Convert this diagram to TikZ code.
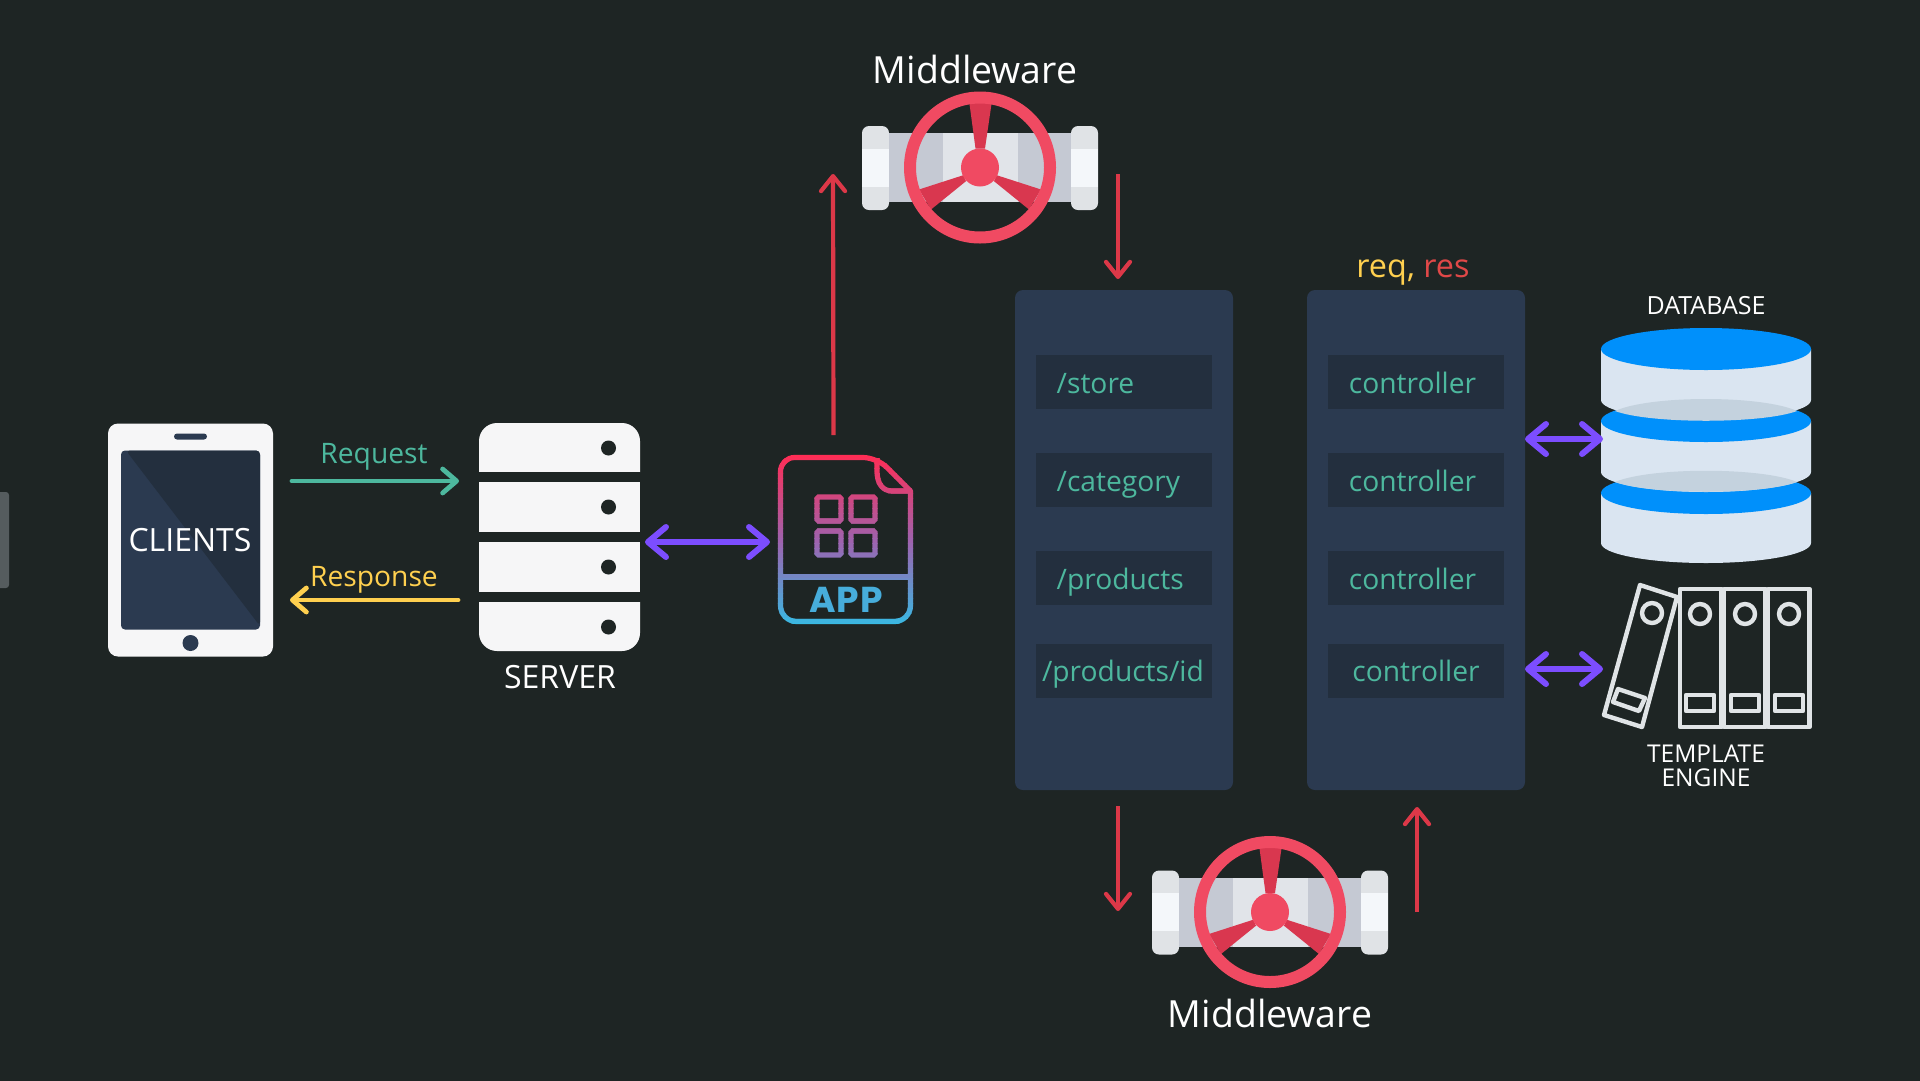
\documentclass[tikz,border=0pt]{standalone}
\usepackage{fontspec}
\setmainfont{Open Sans}
\newfontfamily\appfont{Poppins}
\usetikzlibrary{arrows.meta}
\usetikzlibrary{positioning}
\definecolor{mbg}{HTML}{1E2524}
\definecolor{mpanel}{HTML}{2B3A50}
\definecolor{mrow}{HTML}{232F3E}
\definecolor{mgreen}{HTML}{4DB89E}
\definecolor{myellow}{HTML}{FFD04F}
\definecolor{mred}{HTML}{DC3848}
\definecolor{mres}{HTML}{E04848}
\definecolor{mpurple}{HTML}{7C4DFF}
\definecolor{mwhite}{HTML}{F6F6F7}
\definecolor{mwheel}{HTML}{F04A62}
\definecolor{mspoke}{HTML}{D9374F}
\definecolor{mcapa}{HTML}{E0E3E6}
\definecolor{mcapb}{HTML}{F4F7FA}
\definecolor{mbodya}{HTML}{C5C9D3}
\definecolor{mbodyb}{HTML}{E1E4E9}
\definecolor{mblue}{HTML}{0090FB}
\definecolor{mside}{HTML}{DAE5F1}
\definecolor{mshadow}{HTML}{C4D2DE}
\definecolor{mbook}{HTML}{E0E4E6}
\definecolor{mtab}{HTML}{555C5E}
\definecolor{mappa}{HTML}{FF2D55}
\definecolor{mappb}{HTML}{9C64B0}
\definecolor{mappc}{HTML}{32BFE6}
\tikzset{
  box/.style = {rectangle, inner sep = 0, line width = 0},
  panel/.style = {box, fill = mpanel, rounded corners = 8, minimum width = 218, minimum height = 500},
  approw/.style = {box, fill = mrow, minimum width = 176, minimum height = 54},
  rowtext/.style = {text = mgreen, inner sep = 0, font = \fontsize{28.2}{30}\selectfont},
  whitetext/.style = {text = white, inner sep = 0},
  slab/.style = {box, fill = mwhite, minimum width = 161, minimum height = 50},
  reqline/.style = {line width = 4.8, mgreen, line cap = round, -{Straight Barb[length = 14, width = 24, round]}},
  resline/.style = {line width = 4.8, myellow, line cap = round, -{Straight Barb[length = 14, width = 24, round]}},
  redline/.style = {line width = 4.2, mred, -{Straight Barb[length = 15, width = 24, round]}},
  dualline/.style = {line width = 6, mpurple, line cap = round, {Straight Barb[length = 18, width = 30, round]}-{Straight Barb[length = 18, width = 30, round]}},
  book/.style = {line width = 4.4, mbook, line join = round},
}
% one valve, drawn round its wheel centre
\newcommand{\drawvalve}{
  \fill [mcapa, rounded corners = 7] (-118, -41.5) rectangle (-91, 42.5);
  \fill [mcapa, rounded corners = 7] (91, -41.5) rectangle (118, 42.5);
  \fill [mcapb] (-118, -19) rectangle (-91, 19);
  \fill [mcapb] (91, -19) rectangle (118, 19);
  \fill [mbodya] (-91, -34.5) rectangle (91, 34.5);
  \fill [mbodyb] (-37, -34.5) rectangle (38, 34.5);
  \fill [mspoke] (-4.5, -19) -- (5, -19) -- (11.7, -65) -- (-10.7, -65) -- cycle;
  \fill [mspoke] (-16.7, 7.7) -- (-14, 13.7) -- (-49, 42) -- (-61, 22) -- cycle;
  \fill [mspoke] (16.7, 7.7) -- (14, 13.7) -- (49, 42) -- (61, 22) -- cycle;
  \draw [mwheel, line width = 12] (0, 0) circle (70);
  \fill [mwheel] (0, 0) circle (19);
}
% app icon outline, in picture pixels
\newcommand{\appoutline}{
  \draw [line width = 5.2, line join = round, rounded corners = 14]
    (780.5, 577) -- (780.5, 457.5) -- (877, 457.5) [sharp corners] -- (910.5, 491)
    [rounded corners = 16] -- (910.5, 621.5) -- (780.5, 621.5) -- (780.5, 577);
  \draw [line width = 5.2] (780.5, 577) -- (910.5, 577);
  \draw [line width = 5.2] (877, 458) -- (877, 471) .. controls (877, 484) and (883, 491) .. (892, 491) -- (910.5, 491);
  \foreach \sqx in {817, 851} {
    \foreach \sqy in {497, 531} {
      \draw [line width = 5.2, rounded corners = 1.5] (\sqx, \sqy) rectangle ++(24, 24);
    }
  }
}
\begin{document}
\begin{tikzpicture}[x = 1pt, y = -1pt]
  \useasboundingbox (0, 0) rectangle (1920, 1080);
  \fill [mbg] (-3, -3) rectangle (1923, 1083);
  \fill [mtab, rounded corners = 3] (-6, 492) rectangle (9, 588);

  % clients
  \node [box, fill = mwhite, rounded corners = 10, minimum width = 165, minimum height = 233] (clients) at (190.5, 540) {};
  \node [box, fill = mpanel, rounded corners = 4, minimum width = 139, minimum height = 179] (screen) at (190.5, 540) {};
  \fill [mrow, rounded corners = 4] (126, 450.5) -- (260, 450.5) -- (260, 626) -- cycle;
  \fill [mpanel, rounded corners = 3] (174, 433.5) rectangle (207, 439.5);
  \fill [mpanel] (190.5, 643) circle (8);
  \node [whitetext, font = \fontsize{32}{34}\selectfont] (clientstext) at (190, 540) {CLIENTS};

  % server
  \fill [mwhite, rounded corners = 18] (479, 423) rectangle (640, 490);
  \fill [mbg] (479, 472) rectangle (640, 482);
  \node [slab] (slabb) at (559.5, 507) {};
  \node [slab] (slabc) at (559.5, 567) {};
  \fill [mwhite, rounded corners = 18] (479, 584) rectangle (640, 651);
  \fill [mbg] (479, 592) rectangle (640, 602);
  \node [box, minimum width = 161, minimum height = 228] (server) at (559.5, 537) {};
  \foreach \doty in {448, 507, 567, 627} {
    \fill [mbg] (608.5, \doty) circle (7.5);
  }
  \node [whitetext, font = \fontsize{32}{34}\selectfont] (servertext) at (560, 677) {SERVER};

  \draw [reqline] ([shift = {(19pt, 59pt)}]clients.east) -- ([shift = {(-20pt, 56pt)}]server.west);
  \draw [resline] ([shift = {(-21pt, -63pt)}]server.west) -- ([shift = {(17pt, -60pt)}]clients.east);
  \node [text = mgreen, inner sep = 0, font = \fontsize{28.2}{30}\selectfont] (reqtext) at (374, 457) {Request};
  \node [text = myellow, inner sep = 0, font = \fontsize{28.2}{30}\selectfont] (restext) at (374, 580) {Response};

  % app
  \foreach \strip in {0, ..., 35} {
    \pgfmathsetmacro{\stripy}{453 + 5 * \strip}
    \pgfmathsetmacro{\mixa}{min(100, \strip * 200 / 35)}
    \pgfmathsetmacro{\mixb}{max(0, (\strip - 17.5) * 200 / 35)}
    \begin{scope}
      \clip (770, \stripy) rectangle (920, \stripy + 5.2);
      \colorlet{stripcol}{mappb!\mixa!mappa}
      \ifdim\mixb pt > 0pt \colorlet{stripcol}{mappc!\mixb!mappb} \fi
      \begin{scope}[stripcol]
        \appoutline
      \end{scope}
    \end{scope}
  }
  \node [box, minimum width = 135, minimum height = 169] (app) at (845.5, 539.5) {};
  \node [text = mappc!80!mappb, inner sep = 0, font = \appfont\bfseries\fontsize{36}{38}\selectfont\addfontfeature{LetterSpace = 3}] (apptext) at (846, 599.5) {APP};
  \draw [dualline] ([xshift = 5pt, yshift = -5pt]server.east) -- ([xshift = -8pt, yshift = -2.5pt]app.west);

  % top middleware
  \begin{scope}[shift = {(980, 167.5)}]
    \drawvalve
  \end{scope}
  \node [box, minimum width = 236, minimum height = 84] (mwtop) at (980, 168) {};
  \node [whitetext, font = \fontsize{37.4}{39}\selectfont] (mwtoptext) at (975, 69) {Middleware};

  % routes and controllers
  \node [panel] (routes) at (1124, 540) {};
  \node [panel] (controllers) at (1416, 540) {};
  \foreach \rowy/\rowname in {382/store, 480/category, 578/products, 670.5/productsid} {
    \node [approw] (row\rowname) at (1124, \rowy) {};
    \node [approw] (ctl\rowname) at (1416, \rowy) {};
  }
  \node [rowtext, anchor = base west] (storetext) at (1056.5, 393) {/store};
  \node [rowtext, anchor = base west] (categorytext) at (1056.5, 491) {/category};
  \node [rowtext, anchor = base west] (productstext) at (1056.5, 589) {/products};
  \node [rowtext, anchor = base] (productsidtext) at (1123, 681) {/products/id};
  \node [rowtext, anchor = base] (ctltexta) at (1412.5, 393) {controller};
  \node [rowtext, anchor = base] (ctltextb) at (1412.5, 491) {controller};
  \node [rowtext, anchor = base] (ctltextc) at (1412.5, 589) {controller};
  \node [rowtext, anchor = base] (ctltextd) at (1416, 681) {controller};
  \node [inner sep = 0, font = \fontsize{32.4}{34}\selectfont] (reqres) at (1413, 273) {\textcolor{myellow}{req,} \textcolor{mres}{res}};

  \draw [redline] ([xshift = -12pt, yshift = 20pt]app.north) -- ([shift = {(-29pt, -6pt)}]mwtop.west);
  \draw [redline] ([shift = {(20pt, -6pt)}]mwtop.east) -- ([shift = {(-6pt, 11pt)}]routes.north);

  % bottom middleware
  \begin{scope}[shift = {(1270, 912)}]
    \drawvalve
  \end{scope}
  \node [box, minimum width = 236, minimum height = 84] (mwbottom) at (1270, 913) {};
  \node [whitetext, font = \fontsize{37.4}{39}\selectfont] (mwbottomtext) at (1270, 1013) {Middleware};
  \draw [redline] ([shift = {(-6pt, -16pt)}]routes.south) -- ([shift = {(-152pt, 2pt)}]mwbottom.center);
  \draw [redline] ([shift = {(147pt, 1pt)}]mwbottom.center) -- ([shift = {(1pt, -17pt)}]controllers.south);

  % database
  \fill [mside] (1601, 493) -- (1811, 493) -- (1811, 543) arc (0 : 180 : 105 and 20) -- cycle;
  \fill [mblue] (1706, 493) ellipse (105 and 21);
  \fill [mside] (1601, 421) -- (1811, 421) -- (1811, 472) arc (0 : 180 : 105 and 20) -- cycle;
  \fill [mshadow] (1615, 482) .. controls (1650, 467) and (1762, 467) .. (1797, 482) .. controls (1762, 495) and (1650, 495) .. (1615, 482) -- cycle;
  \fill [mblue] (1706, 421) ellipse (105 and 21);
  \fill [mside] (1601, 349) -- (1811, 349) -- (1811, 400) arc (0 : 180 : 105 and 20) -- cycle;
  \fill [mshadow] (1615, 411) .. controls (1650, 395) and (1762, 395) .. (1797, 411) .. controls (1762, 424) and (1650, 424) .. (1615, 411) -- cycle;
  \fill [mblue] (1706, 349) ellipse (105 and 21);
  \node [box, minimum width = 210, minimum height = 235] (database) at (1706, 445.5) {};
  \node [whitetext, font = \fontsize{25}{27}\selectfont] (databasetext) at (1706, 306) {DATABASE};
  \draw [dualline] ([yshift = 101pt]controllers.east) -- ([xshift = 2pt, yshift = 6.5pt]database.west);

  % template engine
  \draw [book] (1640, 585) -- (1677, 597) -- (1642, 727) -- (1604, 715) -- cycle;
  \draw [book] (1652, 613) circle (10);
  \draw [book] (1618, 689) -- (1645, 698) -- (1639, 711) -- (1613, 702) -- cycle;
  \foreach \bookl/\bookc in {1680/1700, 1724/1745, 1768/1789} {
    \draw [book] (\bookl, 589) rectangle ++(41.5, 138);
    \draw [book] (\bookc, 614) circle (10);
    \draw [book] (\bookc - 14, 695) rectangle (\bookc + 14, 711);
  }
  \node [box, minimum width = 210, minimum height = 146] (templates) at (1706, 656) {};
  \node [whitetext, font = \fontsize{24.5}{24}\selectfont, align = center] (templatetext) at (1706, 766) {TEMPLATE\\ENGINE};
  \draw [dualline] ([yshift = -129pt]controllers.east) -- ([xshift = 2pt, yshift = -13pt]templates.west);
\end{tikzpicture}
\end{document}
